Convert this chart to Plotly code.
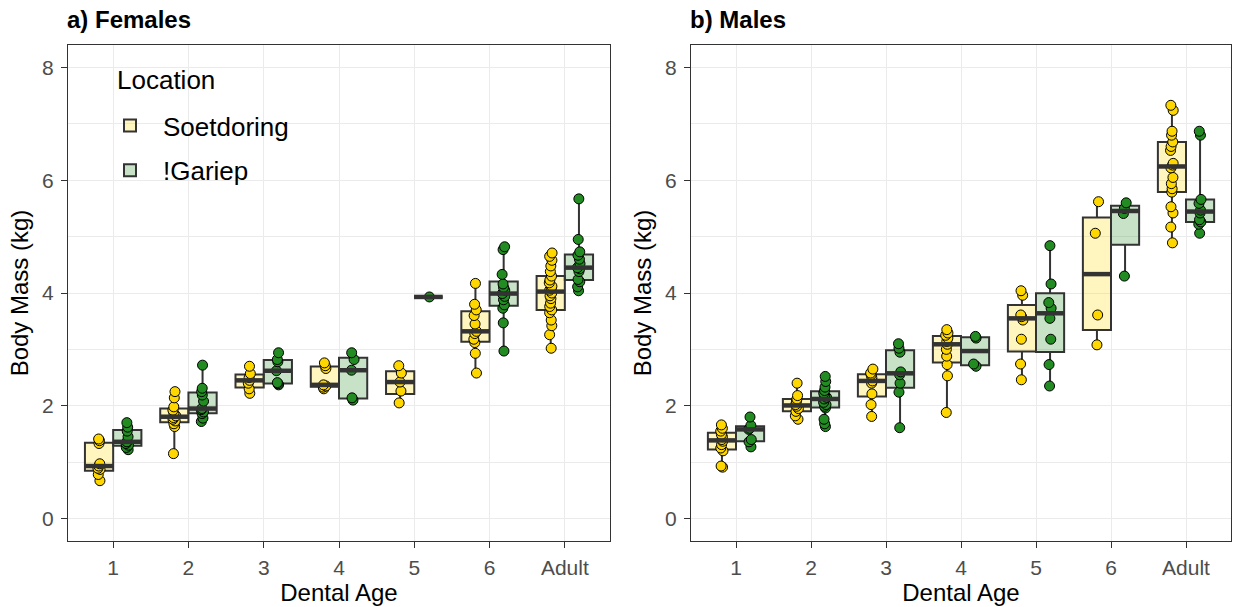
import numpy as np
import plotly.graph_objects as go
from plotly.subplots import make_subplots

# Dental age classes on the x axis
ages = ["1", "2", "3", "4", "5", "6", "Adult"]

# Body mass (kg) per dental age class, females
fem_soetdoring = {
    "1": [0.67, 0.78, 0.87, 0.89, 0.93, 0.97, 1.33, 1.38, 1.41],
    "2": [1.15, 1.63, 1.68, 1.73, 1.76, 1.79, 1.82, 1.86, 1.92, 1.98, 2.14, 2.25],
    "3": [2.22, 2.30, 2.40, 2.45, 2.50, 2.57, 2.70],
    "4": [2.30, 2.33, 2.35, 2.37, 2.66, 2.71, 2.76],
    "5": [2.05, 2.26, 2.42, 2.58, 2.71],
    "6": [2.58, 2.93, 3.12, 3.18, 3.28, 3.32, 3.45, 3.60, 3.70, 3.80, 4.17],
    "Adult": [3.02, 3.26, 3.42, 3.52, 3.65, 3.70, 3.76, 3.82, 3.90, 3.95, 4.00,
              4.05, 4.08, 4.12, 4.18, 4.23, 4.30, 4.38, 4.48, 4.58, 4.65, 4.71],
}
fem_gariep = {
    "1": [1.22, 1.26, 1.30, 1.33, 1.36, 1.45, 1.55, 1.62, 1.70],
    "2": [1.72, 1.78, 1.86, 1.89, 1.93, 1.95, 2.08, 2.19, 2.25, 2.31, 2.72],
    "3": [2.37, 2.39, 2.41, 2.62, 2.78, 2.82, 2.94],
    "4": [2.10, 2.14, 2.63, 2.82, 2.94],
    "5": [3.93],
    "6": [2.97, 3.47, 3.73, 3.79, 3.88, 3.94, 3.99, 4.05, 4.10, 4.16, 4.33, 4.77, 4.82],
    "Adult": [4.04, 4.11, 4.20, 4.24, 4.38, 4.43, 4.45, 4.52, 4.60, 4.67, 4.73, 4.95, 5.67],
}

# Body mass (kg) per dental age class, males
male_soetdoring = {
    "1": [0.91, 0.93, 1.20, 1.25, 1.31, 1.37, 1.40, 1.45, 1.49, 1.55, 1.60, 1.66],
    "2": [1.76, 1.82, 1.90, 1.95, 1.99, 2.02, 2.08, 2.12, 2.18, 2.40],
    "3": [1.81, 2.02, 2.21, 2.40, 2.44, 2.50, 2.55, 2.58, 2.65],
    "4": [1.88, 2.53, 2.73, 2.88, 3.00, 3.09, 3.14, 3.20, 3.25, 3.29, 3.35],
    "5": [2.46, 2.74, 3.18, 3.52, 3.58, 3.61, 3.96, 4.04],
    "6": [3.08, 3.61, 5.06, 5.62],
    "Adult": [4.89, 5.17, 5.42, 5.53, 5.79, 5.85, 5.94, 6.05, 6.22, 6.27, 6.30,
              6.53, 6.60, 6.68, 6.80, 6.87, 7.24, 7.33],
}
male_gariep = {
    "1": [1.27, 1.36, 1.40, 1.58, 1.60, 1.65, 1.80],
    "2": [1.63, 1.68, 1.76, 1.96, 1.99, 2.02, 2.06, 2.12, 2.15, 2.18, 2.22, 2.27,
          2.33, 2.43, 2.52],
    "3": [1.61, 2.24, 2.40, 2.55, 2.60, 2.95, 3.02, 3.10],
    "4": [2.70, 2.74, 3.20, 3.23],
    "5": [2.35, 2.73, 3.18, 3.55, 3.73, 3.83, 4.16, 4.84],
    "6": [4.30, 5.41, 5.50, 5.60],
    "Adult": [5.06, 5.22, 5.26, 5.30, 5.42, 5.47, 5.59, 5.66, 6.80, 6.87],
}

panel_titles = ["a) Females", "b) Males"]
legend_title = "Location"
y_ticks = [0, 2, 4, 6, 8]

styles = {
    "Soetdoring": dict(fill="rgba(255,215,0,0.25)", point="#FFD700"),
    "!Gariep": dict(fill="rgba(34,139,34,0.25)", point="#228B22"),
}

fig = make_subplots(rows=1, cols=2, horizontal_spacing=0.0)

panels = [
    (1, {"Soetdoring": fem_soetdoring, "!Gariep": fem_gariep}),
    (2, {"Soetdoring": male_soetdoring, "!Gariep": male_gariep}),
]


def flatten(data):
    xs, ys = [], []
    for age in ages:
        vals = data.get(age, [])
        xs += [age] * len(vals)
        ys += vals
    return xs, ys


for col, series in panels:
    # boxes and whiskers
    for loc, data in series.items():
        xs, ys = flatten(data)
        st = styles[loc]
        fig.add_trace(
            go.Box(
                x=xs, y=ys, name=loc,
                legendgroup=loc, showlegend=(col == 1),
                offsetgroup=loc,
                boxpoints=False,
                fillcolor=st["fill"],
                line=dict(color="#333333", width=2),
                whiskerwidth=0,
                marker=dict(color=st["point"], size=10,
                            line=dict(color="#000000", width=1)),
                quartilemethod="linear",
                hoverinfo="skip",
            ),
            row=1, col=col,
        )
    # thicker median bars
    for loc, data in series.items():
        mx = [age for age in ages if data.get(age)]
        my = [float(np.percentile(data[age], 50)) for age in mx]
        fig.add_trace(
            go.Scatter(
                x=mx, y=my, mode="markers", offsetgroup=loc,
                showlegend=False, hoverinfo="skip",
                marker=dict(symbol="line-ew", size=20.5, color="#333333",
                            line=dict(color="#333333", width=4.5)),
            ),
            row=1, col=col,
        )
    # individual animals
    for loc, data in series.items():
        xs, ys = flatten(data)
        st = styles[loc]
        fig.add_trace(
            go.Box(
                x=xs, y=ys, name=loc,
                showlegend=False, offsetgroup=loc,
                boxpoints="all", jitter=0.12, pointpos=0,
                fillcolor="rgba(0,0,0,0)",
                line=dict(color="rgba(0,0,0,0)", width=0),
                whiskerwidth=0,
                marker=dict(color=st["point"], size=10,
                            line=dict(color="#000000", width=1)),
                quartilemethod="linear",
                hoverinfo="y",
            ),
            row=1, col=col,
        )

font_family = "Liberation Sans, Arial, Helvetica, sans-serif"

axis_common = dict(
    showline=True, linecolor="#333333", linewidth=1.2, mirror=True,
    ticks="outside", ticklen=6, tickcolor="#333333", tickwidth=1.2,
    tickfont=dict(size=21, color="#4d4d4d", family=font_family),
    showgrid=True, gridcolor="#ebebeb", gridwidth=1.4,
    zeroline=False,
)

left_px, right_px, top_px, bottom_px = 68, 5, 45, 66
plot_w = 1236 - left_px - right_px
plot_h = 607 - top_px - bottom_px
dom_a = [0, (610 - left_px) / plot_w]
dom_b = [(691 - left_px) / plot_w, 1]

for i, dom in enumerate([dom_a, dom_b], start=1):
    fig.update_xaxes(
        row=1, col=i, domain=dom,
        type="category", categoryorder="array", categoryarray=ages,
        range=[-0.6, 6.6],
        title=dict(text="Dental Age", font=dict(size=24, color="#000000", family=font_family),
                   standoff=2),
        ticklabelstandoff=2,
        **axis_common,
    )
    fig.update_yaxes(
        row=1, col=i,
        range=[-0.4, 8.4], tickvals=y_ticks,
        minor=dict(showgrid=True, dtick=1, tick0=0, gridcolor="#ebebeb", gridwidth=0.8),
        title=dict(text="Body Mass (kg)", font=dict(size=24, color="#000000", family=font_family),
                   standoff=6),
        ticklabelstandoff=3,
        **axis_common,
    )

for title, dom in zip(panel_titles, [dom_a, dom_b]):
    fig.add_annotation(
        text=f"<b>{title}</b>", xref="paper", yref="paper",
        x=dom[0], y=1, xanchor="left", yanchor="bottom",
        xshift=-3, yshift=10, showarrow=False,
        font=dict(size=24, color="#000000", family=font_family),
    )

# legend heading placed as its own label above the keys
fig.add_annotation(
    text=legend_title, xref="paper", yref="paper",
    x=(115 - left_px) / plot_w, y=1 - (80 - top_px) / plot_h,
    xanchor="left", yanchor="middle", showarrow=False,
    font=dict(size=26, color="#000000", family=font_family),
)

fig.update_layout(
    width=1236, height=607,
    margin=dict(l=left_px, r=right_px, t=top_px, b=bottom_px),
    paper_bgcolor="white", plot_bgcolor="white",
    boxmode="group", boxgap=0.25, boxgroupgap=0,
    scattermode="group", scattergap=0.25,
    font=dict(family=font_family),
    legend=dict(
        x=(97 - left_px) / plot_w, y=1 - (102 - top_px) / plot_h,
        xanchor="left", yanchor="top",
        bgcolor="rgba(0,0,0,0)",
        font=dict(size=26, color="#000000"),
        tracegroupgap=8, itemwidth=56,
    ),
)

fig.write_html("out.html")
